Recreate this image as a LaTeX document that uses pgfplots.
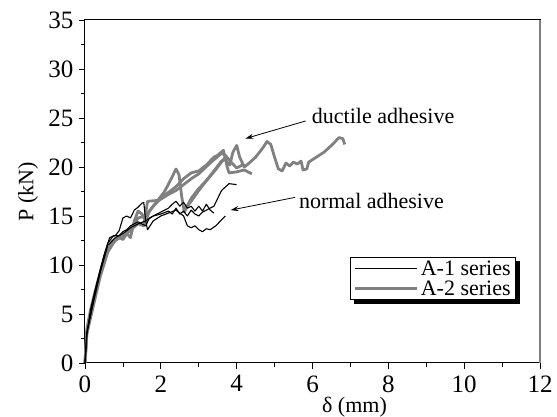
\documentclass[border=0pt]{standalone}
\usepackage{fontspec}
\setmainfont{Liberation Serif}
\usepackage{pgfplots}
\pgfplotsset{compat=1.18}
\usetikzlibrary{arrows.meta}
\pgfdeclarelayer{bg}
\pgfsetlayers{bg,main}
\definecolor{cgray}{RGB}{128,128,128}
\newcommand{\tfont}{\fontsize{25}{27}\selectfont}
\begin{document}
\begin{tikzpicture}
\begin{axis}[
  scale only axis,
  width=455pt, height=343pt,
  xmin=0, xmax=12, ymin=0, ymax=35,
  xtick={0,2,...,12}, ytick={0,5,...,35},
  minor x tick num=1, minor y tick num=1,
  xtick pos=bottom, ytick pos=left,
  tick align=outside,
  major tick length=6pt, minor tick length=4pt,
  tick style={black, line width=0.8pt},
  axis line style={line width=1pt},
  font=\fontsize{22}{26}\selectfont,
  /pgf/number format/assume math mode=true,
  xticklabel={\tfont\pgfmathprintnumber{\tick}},
  yticklabel={\tfont\pgfmathprintnumber{\tick}},
  xticklabel style={yshift=-3pt},
  yticklabel style={xshift=-2pt},
  xlabel={δ (mm)}, ylabel={P (kN)},
  every axis x label/.style={at={(rel axis cs:0.5,0)}, anchor=center, yshift=-44pt, xshift=42pt},
  every axis y label/.style={at={(rel axis cs:0,0.5)}, anchor=center, xshift=-57pt, rotate=90},
  clip=false,
  legend cell align=left,
  legend style={name=leg, at={(axis cs:7.0,10.8)}, anchor=north west, draw=black, line width=0.8pt, fill=white,
    font=\fontsize{22}{26}\selectfont, inner xsep=3pt, inner ysep=1pt, row sep=0pt},
  legend image code/.code={\path (0pt,0pt) -- (62pt,0pt); \draw[#1] (9pt,0pt) -- (61pt,0pt);},
]
\addlegendimage{black, line width=1.2pt}
\addlegendentry{A-1 series}
\addlegendimage{cgray, line width=3pt}
\addlegendentry{A-2 series}

% A-2 series (gray)
\addplot[cgray, line width=2.8pt, line join=round, forget plot] coordinates {
(0,0)(0.05,3.5)(0.15,5.5)(0.3,7.8)(0.5,10.5)(0.7,12.3)(0.9,12.8)(1.0,12.6)(1.1,13.2)(1.2,12.8)(1.3,14.5)(1.4,15.5)(1.5,15.2)(1.6,14.5)(1.7,15.5)(1.9,16.5)(2.1,17.5)(2.3,19.0)(2.4,19.8)(2.48,19.2)(2.55,17.0)(2.62,15.4)(2.8,16.8)(3.0,17.8)(3.2,18.6)(3.4,19.5)(3.6,20.5)(3.7,21.0)(3.75,20.0)(3.8,19.4)(4.0,19.5)(4.2,19.7)(4.4,19.3)};
\addplot[cgray, line width=2.8pt, line join=round, forget plot] coordinates {
(0,0)(0.05,3.2)(0.2,5.8)(0.4,9.0)(0.6,11.5)(0.8,12.5)(1.0,13.0)(1.2,13.5)(1.4,14.8)(1.6,15.0)(1.8,16.0)(2.0,16.8)(2.2,17.4)(2.4,18.0)(2.6,18.8)(2.8,19.4)(3.0,19.6)(3.2,20.2)(3.4,21.0)(3.5,21.2)(3.65,21.7)(3.72,20.6)(3.82,20.2)(3.9,21.5)(4.0,22.2)(4.08,21.0)(4.2,20.0)(4.3,20.3)(4.5,21.0)(4.7,22.0)(4.8,22.6)(4.9,22.3)(5.0,21.0)(5.1,19.8)(5.2,19.6)(5.3,20.4)(5.4,20.1)(5.5,20.5)(5.6,20.3)(5.7,20.6)(5.75,19.7)(5.85,19.8)(5.9,20.5)(6.1,21.0)(6.3,21.5)(6.5,22.2)(6.7,23.0)(6.8,22.9)(6.85,22.3)};
\addplot[cgray, line width=2.8pt, line join=round, forget plot] coordinates {
(0,0)(0.05,3.0)(0.2,5.5)(0.4,8.8)(0.6,11.3)(0.8,12.6)(1.0,13.0)(1.2,13.6)(1.4,14.2)(1.55,14.0)(1.65,16.5)(1.95,16.6)(2.2,17.2)(2.4,17.6)(2.6,18.2)(2.8,18.8)(3.0,19.3)(3.3,20.4)(3.6,21.4)(3.7,21.2)(3.85,20.5)(4.0,19.9)(4.2,20.3)};
\addplot[cgray, line width=2.8pt, line join=round, forget plot] coordinates {
(2.65,15.8)(2.8,16.5)(3.0,17.6)(3.2,18.6)(3.4,19.6)(3.6,20.6)(3.7,20.8)};

% A-1 series (black)
\addplot[black, line width=1.1pt, line join=round, forget plot] coordinates {
(0,0)(0.05,3.0)(0.15,5.5)(0.3,8.0)(0.5,11.0)(0.65,12.8)(0.8,13.0)(0.9,13.5)(1.0,14.8)(1.1,15.0)(1.2,14.8)(1.3,15.6)(1.4,15.9)(1.5,16.3)(1.55,16.4)(1.6,14.5)(1.65,13.6)(1.8,14.5)(2.0,15.0)(2.2,15.3)(2.4,15.6)(2.5,15.3)(2.6,15.0)(2.7,14.0)(2.8,13.8)(2.9,14.0)(3.0,13.6)(3.1,13.4)(3.2,13.7)(3.3,13.6)(3.45,14.0)(3.7,15.0)};
\addplot[black, line width=1.1pt, line join=round, forget plot] coordinates {
(0,0)(0.05,3.2)(0.2,6.0)(0.4,9.5)(0.6,12.2)(0.75,13.0)(0.9,13.0)(1.0,13.4)(1.1,13.6)(1.2,14.0)(1.3,14.2)(1.4,14.4)(1.5,14.2)(1.6,14.0)(1.7,14.8)(1.8,15.0)(2.0,15.4)(2.2,15.8)(2.3,16.2)(2.4,16.5)(2.5,16.0)(2.6,16.4)(2.7,15.8)(2.8,16.0)(2.9,15.5)(3.0,16.0)(3.1,15.5)(3.2,16.2)(3.3,15.6)(3.4,15.3)};
\addplot[black, line width=1.1pt, line join=round, forget plot] coordinates {
(0,0)(0.05,3.0)(0.2,5.8)(0.4,9.2)(0.6,12.0)(0.8,12.8)(1.0,13.2)(1.2,13.8)(1.4,14.2)(1.6,14.5)(1.8,15.0)(2.0,15.2)(2.2,15.5)(2.3,15.2)(2.4,15.8)(2.5,15.2)(2.6,15.5)(2.7,15.0)(2.8,15.6)(2.9,15.2)(3.0,15.0)(3.1,15.4)(3.2,15.6)(3.4,16.0)(3.5,16.8)(3.6,17.6)(3.8,18.3)(4.0,18.2)};

% annotations
\node[anchor=west, inner sep=0pt] at (axis cs:5.98,25.2) {ductile adhesive};
\draw[-{Stealth[length=8pt,width=5pt]}, line width=0.8pt] (axis cs:5.82,24.7) -- (axis cs:4.23,22.9);
\node[anchor=west, inner sep=0pt] at (axis cs:5.64,16.55) {normal adhesive};
\draw[-{Stealth[length=8pt,width=5pt]}, line width=0.8pt] (axis cs:5.54,16.9) -- (axis cs:3.84,15.6);

% right spine
\draw[cgray, line width=1.8pt] (rel axis cs:1,0) -- (rel axis cs:1,1);
\coordinate (SW) at (rel axis cs:0,0);
\coordinate (NE) at (rel axis cs:1,1);
\end{axis}
\begin{pgfonlayer}{bg}
\fill[black] ([shift={(4pt,-4pt)}]leg.south west) rectangle ([shift={(4pt,-4pt)}]leg.north east);
\end{pgfonlayer}
\pgfresetboundingbox
\path ([shift={(-85pt,-54pt)}]SW) rectangle ([shift={(17pt,20pt)}]NE);
\end{tikzpicture}
\end{document}
